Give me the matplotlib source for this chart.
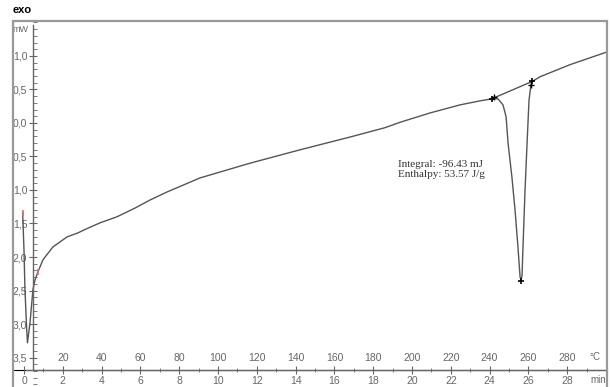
import matplotlib
matplotlib.use("Agg")
import matplotlib.pyplot as plt
from matplotlib.patches import Rectangle
from matplotlib.ticker import MultipleLocator, FuncFormatter

# DSC heating run, heat flow (mW) vs time (min); 10 K/min so T = 10 * t
time_min = [-0.07, 0.0, 0.05, 0.14, 0.18, 0.31, 0.46, 0.57, 0.72, 0.98, 1.49, 2.22,
            2.78, 3.14, 3.92, 4.79, 5.72, 6.49, 7.37, 9.07, 11.65, 14.23,
            16.80, 18.61, 19.38, 20.93, 22.47, 23.50, 24.11, 24.43, 24.69, 24.85,
            24.95, 25.15, 25.31, 25.46, 25.57, 25.62, 25.67, 25.72, 25.82, 25.93,
            26.03, 26.13, 26.19, 26.60, 28.14, 30.05]
heat_flow = [-1.34, -1.90, -2.49, -3.09, -3.28, -2.98, -2.49, -2.34, -2.22, -2.04,
             -1.85, -1.70, -1.64, -1.59, -1.49, -1.40, -1.27, -1.15, -1.03,
             -0.82, -0.60, -0.40, -0.21, -0.07, 0.01, 0.15, 0.27, 0.33, 0.36,
             0.36, 0.27, 0.09, -0.30, -0.81, -1.30, -1.85, -2.30, -2.34, -2.28,
             -1.85, -1.04, -0.30, 0.34, 0.57, 0.62, 0.69, 0.87, 1.06]

# integration limits and peak
base_t = [24.11, 26.19]
base_v = [0.36, 0.62]
peak_t, peak_v = 25.62, -2.36
start_marks_t = [-0.07, 0.72]
start_marks_v = [-1.34, -2.22]

integral_mj = -96.43
enthalpy_jg = 53.57

x_ticks = list(range(0, 30, 2))
temp_ticks = list(range(20, 300, 20))
y_ticks = [1.0, 0.5, 0.0, -0.5, -1.0, -1.5, -2.0, -2.5, -3.0, -3.5]

plt.rcParams['font.family'] = ['Liberation Sans', 'DejaVu Sans']
grey = '#666666'
curve = '#555555'

fig = plt.figure(figsize=(6.1, 3.87), dpi=100)
fig.add_artist(Rectangle((13 / 610, -0.01), 594 / 610, 366 / 387 + 0.01,
                         transform=fig.transFigure, fill=False,
                         edgecolor='#999999', lw=1.6))
fig.text(13 / 610, 1 - 10 / 387, 'exo', fontsize=8, fontweight='bold',
         va='center', ha='left')

ax = fig.add_axes([13 / 610, 0, 594 / 610, 366 / 387])
ax.patch.set_alpha(0)
ax.set_xlim(-0.567, 30.05)
ax.set_ylim(-3.94, 1.522)

for s in ('top', 'right'):
    ax.spines[s].set_visible(False)
ax.spines['left'].set_position(('data', 0.46))
ax.spines['bottom'].set_position(('data', -3.69))
ax.spines['left'].set_bounds(-3.69, 1.46)
ax.spines['bottom'].set_bounds(0.1, 30.0)
for s in ('left', 'bottom'):
    ax.spines[s].set_color(grey)
    ax.spines[s].set_linewidth(1.0)

ax.set_yticks(y_ticks)
ax.yaxis.set_minor_locator(MultipleLocator(0.1))
ax.yaxis.set_major_formatter(FuncFormatter(lambda v, p: f"{abs(v):.1f}".replace('.', ',')))
ax.set_xticks(x_ticks)
ax.xaxis.set_minor_locator(MultipleLocator(1))
ax.tick_params(which='major', direction='inout', length=6, width=0.8, color=grey,
               labelcolor=grey, labelsize=7.5)
ax.tick_params(axis='y', which='minor', direction='in', length=3, width=0.6, color=grey)
ax.tick_params(axis='x', which='minor', direction='inout', length=3, width=0.6, color=grey)
ax.tick_params(axis='y', which='major', pad=1)
ax.tick_params(axis='x', which='major', pad=1)

# temperature scale sits on the same baseline, labels above
sec = ax.secondary_xaxis(0.25 / 5.462, functions=(lambda t: t * 10, lambda T: T / 10))
sec.set_xticks(temp_ticks)
sec.spines[:].set_visible(False)
sec.tick_params(length=0, labelcolor=grey, labelsize=7.5, pad=5)
sec.set_alignment('top')

ax.text(-0.2, 1.39, 'mW', color=grey, fontsize=6.5, ha='center', va='center')
ax.text(29.4, -3.49, '°C', color=grey, fontsize=7, ha='center', va='center')
ax.text(29.6, -3.84, 'min', color=grey, fontsize=7, ha='center', va='center')

ax.plot(time_min, heat_flow, color=curve, lw=1.0)
ax.plot(base_t, base_v, color=curve, lw=1.0)
ax.plot(base_t, base_v, '+', color='black', ms=5, mew=1.2)
ax.plot([base_t[0] + 0.12, base_t[1] - 0.08], [base_v[0] + 0.03, base_v[1] - 0.05],
        '+', color='black', ms=4, mew=1.0)
ax.plot([peak_t], [peak_v], '+', color='black', ms=4, mew=1.2)
ax.plot(start_marks_t, start_marks_v, '|', color='#e06a6a', ms=4, mew=1.2)

ax.text(19.28, -0.69, f"Integral: {integral_mj:.2f} mJ\nEnthalpy: {enthalpy_jg:.2f} J/g",
        family=['Liberation Serif'], fontsize=8, color='#333333',
        ha='left', va='center', linespacing=1.15)

fig.savefig('out.png', dpi=100)
